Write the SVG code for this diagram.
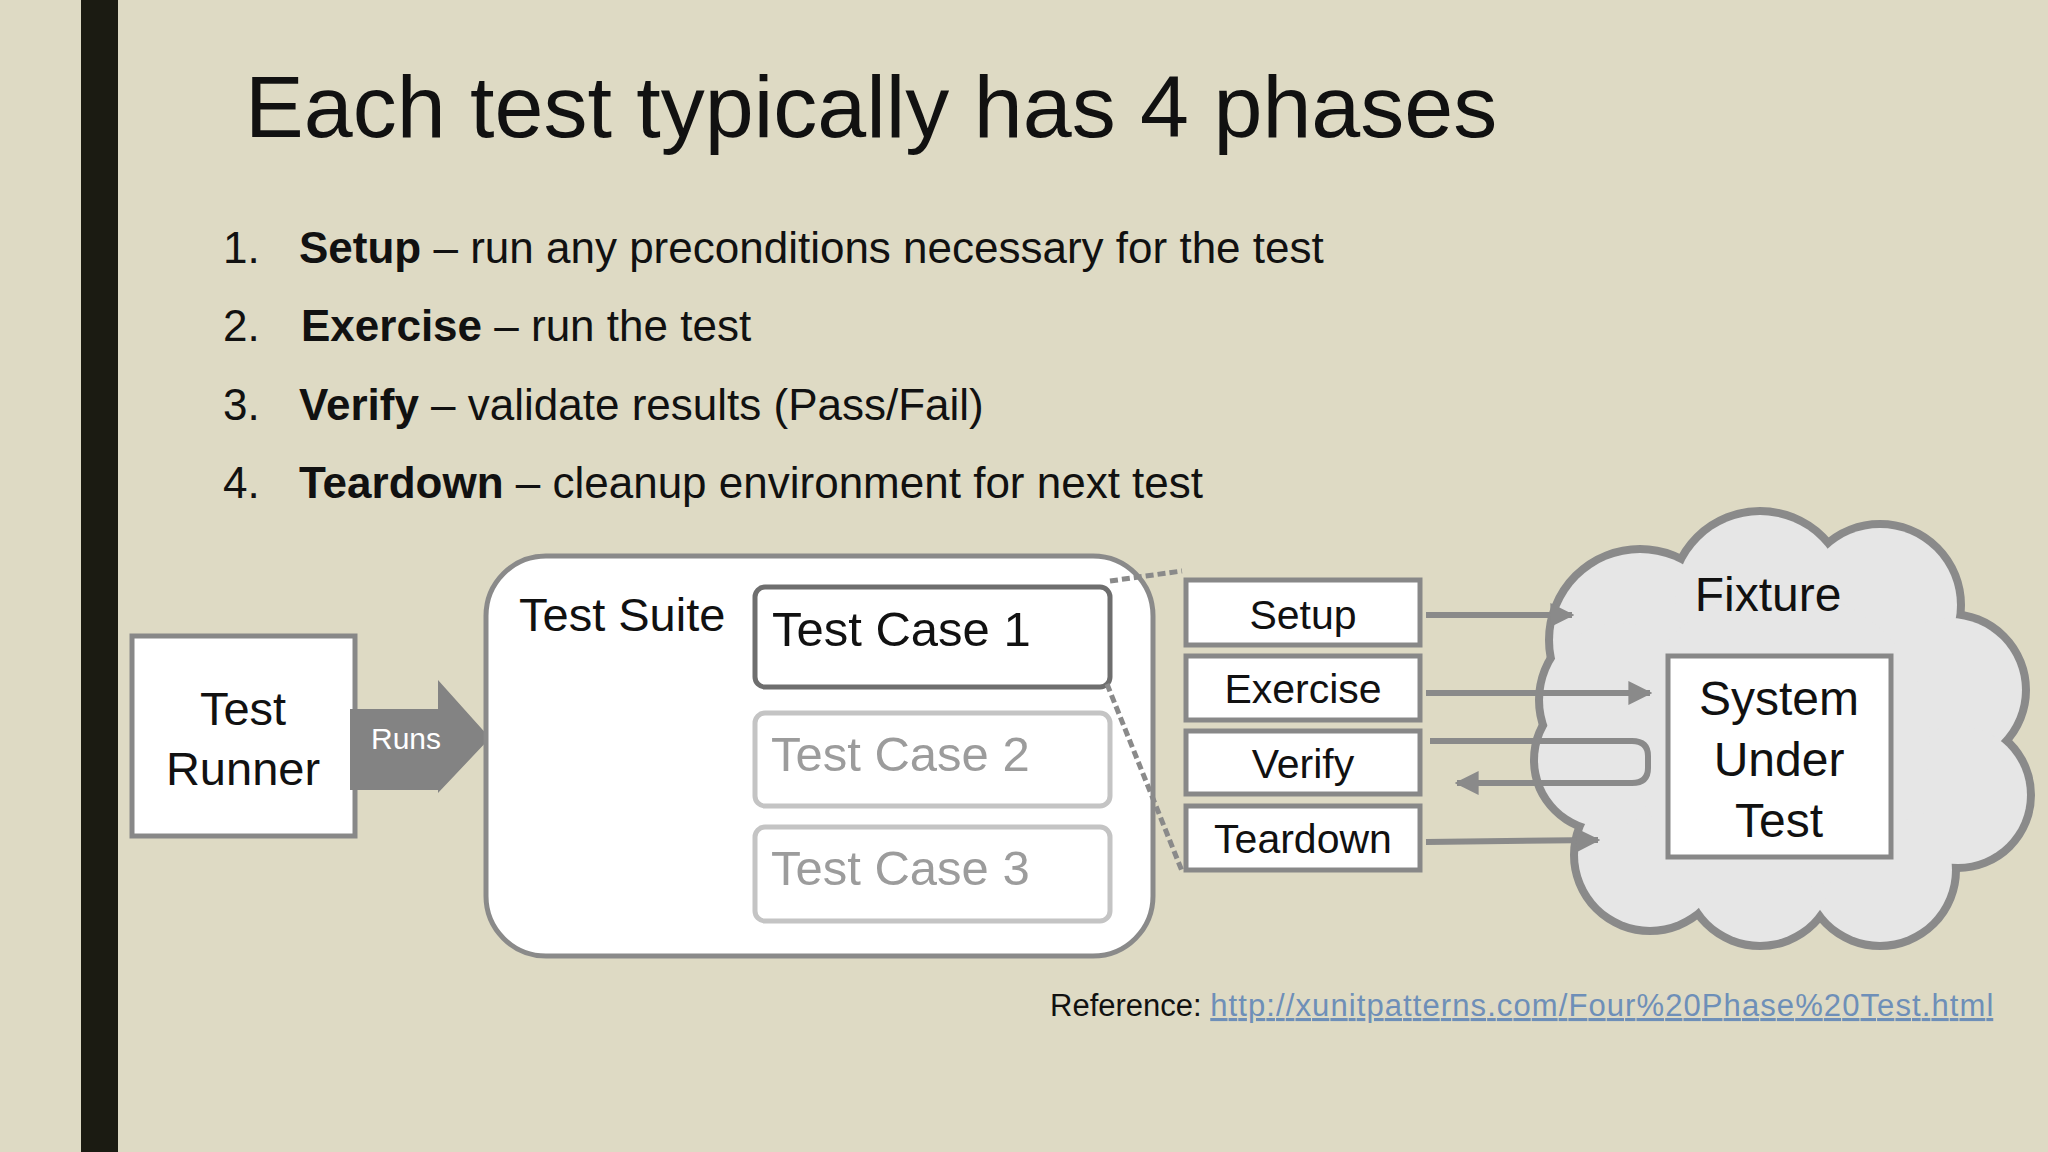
<svg xmlns="http://www.w3.org/2000/svg" width="2048" height="1152" viewBox="0 0 2048 1152">
<defs>
<style>
.t{font-family:"Liberation Sans",Arial,sans-serif;fill:#111}
.b{fill:#fff;stroke:#888;stroke-width:5}
.c{stroke:#8a8a8a;stroke-width:6;fill:none}
.ph{font-family:"Liberation Sans",Arial,sans-serif;font-size:41px;fill:#111;text-anchor:middle}
</style>
<marker id="ah" viewBox="0 0 10 10" refX="9" refY="5" markerWidth="4" markerHeight="4" orient="auto"><path d="M0,0L10,5L0,10z" fill="#8a8a8a"/></marker>
</defs>
<rect width="2048" height="1152" fill="#dedac4"/>
<rect x="81" y="0" width="37" height="1152" fill="#1b1b12"/>
<text class="t" x="245" y="137" font-size="88">Each test typically has 4 phases</text>
<g class="t" font-size="44">
<text x="223" y="263">1.</text><text x="299" y="263"><tspan font-weight="bold">Setup</tspan> – run any preconditions necessary for the test</text>
<text x="223" y="341">2.</text><text x="301" y="341"><tspan font-weight="bold">Exercise</tspan> – run the test</text>
<text x="223" y="420">3.</text><text x="299" y="420"><tspan font-weight="bold">Verify</tspan> – validate results (Pass/Fail)</text>
<text x="223" y="498">4.</text><text x="299" y="498"><tspan font-weight="bold">Teardown</tspan> – cleanup environment for next test</text>
</g>
<g id="runner"><rect class="b" x="132" y="636" width="223" height="200"/>
<text class="t" font-size="47" text-anchor="middle" x="243" y="725">Test</text>
<text class="t" font-size="47" text-anchor="middle" x="243" y="785">Runner</text></g>
<g id="runs"><path d="M350,709H438V680L490,738L438,793V790H350z" fill="#838383"/>
<text x="406" y="749" font-family="Liberation Sans,Arial,sans-serif" font-size="30" fill="#fff" text-anchor="middle">Runs</text></g>
<g id="suite"><rect x="486" y="556" width="667" height="400" rx="60" fill="#fff" stroke="#8a8a8a" stroke-width="5"/>
<text class="t" x="519" y="631" font-size="47">Test Suite</text></g>
<g id="tc1"><rect x="755" y="587" width="355" height="100" rx="10" fill="#fff" stroke="#6e6e6e" stroke-width="5"/><text class="t" x="772" y="646" font-size="49">Test Case 1</text></g>
<g id="tc2"><rect x="755" y="713" width="355" height="93" rx="10" fill="#fff" stroke="#c4c4c4" stroke-width="5"/><text x="771" y="771" font-size="49" font-family="Liberation Sans,Arial,sans-serif" fill="#9c9c9c">Test Case 2</text></g>
<g id="tc3"><rect x="755" y="827" width="355" height="94" rx="10" fill="#fff" stroke="#c4c4c4" stroke-width="5"/><text x="771" y="885" font-size="49" font-family="Liberation Sans,Arial,sans-serif" fill="#9c9c9c">Test Case 3</text></g>
<g id="cloud">
<g fill="#e6e6e6" stroke="#8a8a8a" stroke-width="10">
<circle cx="1640" cy="640" r="90"/><circle cx="1760" cy="600" r="88"/><circle cx="1880" cy="605" r="80"/><circle cx="1950" cy="690" r="75"/><circle cx="1958" cy="795" r="72"/><circle cx="1880" cy="870" r="75"/><circle cx="1760" cy="870" r="75"/><circle cx="1650" cy="855" r="75"/><circle cx="1605" cy="760" r="70"/><circle cx="1620" cy="700" r="80"/></g>
<g fill="#e6e6e6"><circle cx="1640" cy="640" r="87"/><circle cx="1760" cy="600" r="85"/><circle cx="1880" cy="605" r="77"/><circle cx="1950" cy="690" r="72"/><circle cx="1958" cy="795" r="69"/><circle cx="1880" cy="870" r="72"/><circle cx="1760" cy="870" r="72"/><circle cx="1650" cy="855" r="72"/><circle cx="1605" cy="760" r="67"/><circle cx="1620" cy="700" r="77"/><circle cx="1780" cy="740" r="150"/></g>
<text class="t" x="1768" y="611" font-size="48" text-anchor="middle">Fixture</text></g>
<g id="connectors">
<path d="M1110,581L1182,571M1107,684L1182,871" stroke="#8a8a8a" stroke-width="5" stroke-dasharray="8,4" fill="none"/>
<path class="c" d="M1426,615H1572" marker-end="url(#ah)"/>
<path class="c" d="M1426,693H1650" marker-end="url(#ah)"/>
<path class="c" d="M1430,741H1632Q1648,741 1648,756V768Q1648,783 1632,783H1457" marker-end="url(#ah)"/>
<path class="c" d="M1426,842L1598,840" marker-end="url(#ah)"/>
</g>
<g id="sut"><rect class="b" x="1668" y="656" width="223" height="201"/>
<g class="t" font-size="48" text-anchor="middle"><text x="1779" y="715">System</text><text x="1779" y="776">Under</text><text x="1779" y="837">Test</text></g></g>
<g id="setup"><rect class="b" x="1186" y="580" width="234" height="65"/><text class="ph" x="1303" y="629">Setup</text></g>
<g id="exercise"><rect class="b" x="1186" y="656" width="234" height="64"/><text class="ph" x="1303" y="703">Exercise</text></g>
<g id="verify"><rect class="b" x="1186" y="731" width="234" height="63"/><text class="ph" x="1303" y="778">Verify</text></g>
<g id="teardown"><rect class="b" x="1186" y="806" width="234" height="64"/><text class="ph" x="1303" y="853">Teardown</text></g>
<text x="1050" y="1016" font-family="Liberation Sans,Arial,sans-serif" font-size="31" fill="#111">Reference: <tspan fill="#6e8fb8" text-decoration="underline" textLength="783" lengthAdjust="spacing">http://xunitpatterns.com/Four%20Phase%20Test.html</tspan></text>
</svg>
